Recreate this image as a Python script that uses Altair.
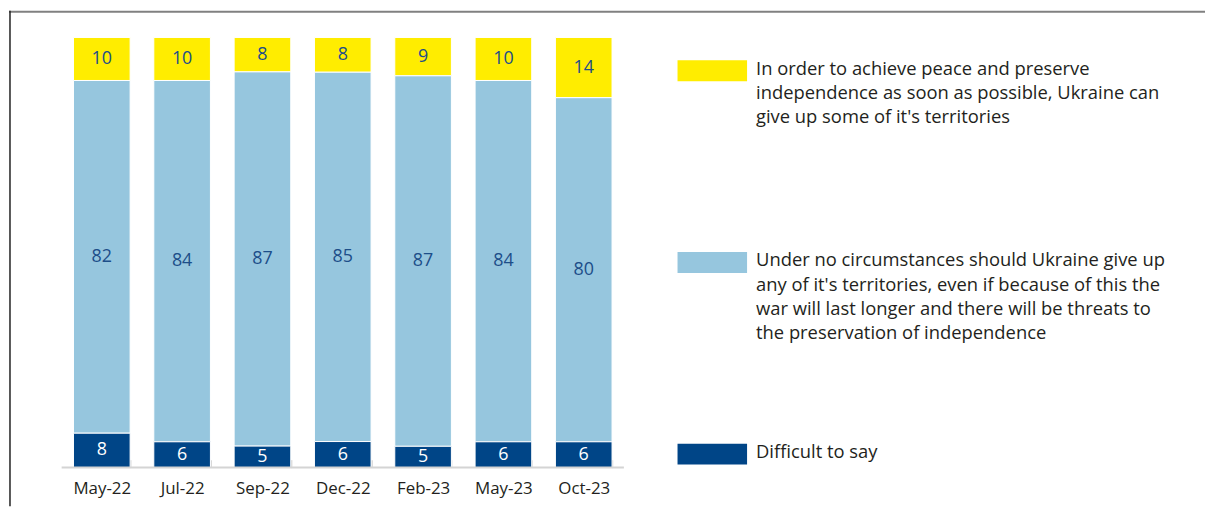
import altair as alt
import pandas as pd

dates = ["May-22", "Jul-22", "Sep-22", "Dec-22", "Feb-23", "May-23", "Oct-23"]
can_give_up = [10, 10, 8, 8, 9, 10, 14]
no_circumstances = [82, 84, 87, 85, 87, 84, 80]
difficult = [8, 6, 5, 6, 5, 6, 6]

categories = [
    "In order to achieve peace and preserve independence as soon as possible, Ukraine can give up some of it's territories",
    "Under no circumstances should Ukraine give up any of it's territories, even if because of this the war will last longer and there will be threats to the preservation of independence",
    "Difficult to say",
]
legend_text = [
    "In order to achieve peace and preserve\nindependence as soon as possible, Ukraine can\ngive up some of it's territories",
    "Under no circumstances should Ukraine give up\nany of it's territories, even if because of this the\nwar will last longer and there will be threats to\nthe preservation of independence",
    "Difficult to say",
]
colors = ["#FFED00", "#96C6DE", "#004587"]
text_colors = ["#1d4e89", "#1d4e89", "#ffffff"]
stack_order = [3, 2, 1]

rows = []
for i, d in enumerate(dates):
    for ci, series in enumerate([can_give_up, no_circumstances, difficult]):
        rows.append({"date": d, "cat": categories[ci], "value": series[i],
                     "ord": stack_order[ci], "tcol": text_colors[ci]})
df = pd.DataFrame(rows)

FONT = "Open Sans"
W, H = 566, 433
LW = 510
SP = 54

base = alt.Chart(df).transform_joinaggregate(
    total="sum(value)", groupby=["date"]
).transform_calculate(
    pct="datum.value / datum.total"
).transform_stack(
    stack="pct", groupby=["date"], sort=[alt.SortField("ord", order="ascending")], as_=["y0", "y1"]
).transform_calculate(
    mid="(datum.y0 + datum.y1) / 2"
)

xenc = alt.X(
    "date:N", sort=dates, title=None,
    scale=alt.Scale(paddingInner=0.295, paddingOuter=0.1475),
    axis=alt.Axis(labelAngle=0, labelFont=FONT, labelFontSize=17, labelColor="#231f20",
                  domain=False, ticks=True, tickBand="extent", tickSize=8,
                  tickColor="#d4d4d4", tickWidth=1.5, offset=-8, labelPadding=13),
)
yscale = alt.Scale(domain=[0, 1])

bars = base.mark_bar(stroke="white", strokeWidth=1).encode(
    x=xenc,
    y=alt.Y("y0:Q", scale=yscale, axis=None),
    y2="y1:Q",
    color=alt.Color("cat:N", scale=alt.Scale(domain=categories, range=colors), legend=None),
)

labels = base.mark_text(font=FONT, fontSize=18, baseline="middle").encode(
    x=alt.X("date:N", sort=dates),
    y=alt.Y("mid:Q", scale=yscale),
    text="value:Q",
    color=alt.Color("tcol:N", scale=None),
)

one = alt.Data(values=[{"k": 1}])
baseline = alt.Chart(one).mark_rule(color="#d4d4d4", strokeWidth=2).encode(
    x=alt.value(0), x2=alt.value(W), y=alt.value(H)
)
frame_top = alt.Chart(one).mark_rule(color="#808080", strokeWidth=2).encode(
    x=alt.value(-53), x2=alt.value(1151), y=alt.value(-26)
)
frame_left = alt.Chart(one).mark_rule(color="#222222", strokeWidth=1.5).encode(
    x=alt.value(-52), y=alt.value(-27), y2=alt.value(472)
)

bar_panel = alt.layer(bars, labels, baseline, frame_top, frame_left).properties(width=W, height=H)

leg_df = pd.DataFrame({"cat": categories, "txt": legend_text})
leg_y = alt.Y("cat:N", sort=categories, axis=None,
              scale=alt.Scale(type="point", domain=categories, range=[33.5, 419.5], padding=0))
leg_sym = alt.Chart(leg_df).mark_point(
    filled=True, opacity=1, shape="M-1,-0.3L1,-0.3L1,0.3L-1,0.3Z", size=4900, strokeWidth=0
).encode(
    x=alt.value(35), y=leg_y,
    color=alt.Color("cat:N", scale=alt.Scale(domain=categories, range=colors), legend=None),
)
leg_txt = alt.Chart(leg_df).mark_text(
    align="left", baseline="alphabetic", lineBreak="\n", lineHeight=24.5,
    font=FONT, fontSize=18.5, color="#231f20", dy=4
).encode(x=alt.value(79), y=leg_y, text="txt:N")
legend_panel = alt.layer(leg_sym, leg_txt).properties(width=LW, height=H)

chart = alt.hconcat(bar_panel, legend_panel, spacing=SP, bounds="flush").properties(
    padding={"left": 0, "top": 0, "right": 0, "bottom": 0}
).resolve_scale(color="independent", y="independent").configure_view(stroke=None)

chart.save("out.html", embed_options={"renderer": "svg", "actions": False})
